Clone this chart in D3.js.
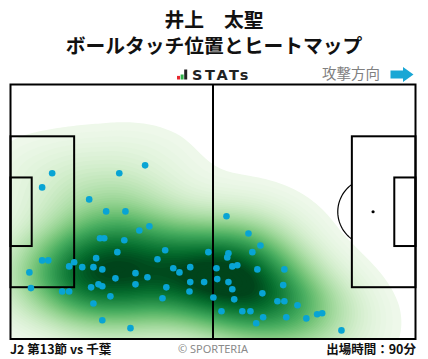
<!DOCTYPE html>
<html><head><meta charset="utf-8">
<script src="https://cdn.jsdelivr.net/npm/d3@7"></script>
<style>html,body{margin:0;padding:0;background:#fff;} svg{display:block}</style>
</head><body><svg id="c" width="428" height="359"></svg>
<script>
// ---- data ----
const titleLines = ["井上　太聖", "ボールタッチ位置とヒートマップ"];
const matchLabel = "J2 第13節 vs 千葉";
const creditLabel = "© SPORTERIA";
const minutesLabel = "出場時間：90分";
const directionLabel = "攻撃方向";
const brandLabel = "STATs";
// pitch in metres (105 x 68)
const pitchLength = 105, pitchWidth = 68;
// ball-touch positions, metres from own goal line (x) and top touchline (y)
const touchX = [10.8, 8.2, 28.2, 34.9, 20.4, 24.8, 29.8, 33.4, 36.0, 23.2, 24.3, 29.5, 27.7, 40.1, 38.1, 51.3,
  8.2, 9.8, 16.5, 22.2, 15.2, 18.6, 21.5, 23.8, 4.9, 32.4, 42.2, 43.8, 46.6, 27.2, 35.5, 46.6, 50.2,
  5.3, 20.9, 22.8, 23.8, 32.4, 40.4, 13.4, 15.2, 46.4, 25.9, 39.4, 52.6, 21.5, 23.8, 31.1,
  56.0, 61.7, 64.8, 62.7, 56.5, 56.2, 53.4, 57.5, 58.8, 64.0, 71.0, 53.6, 56.5, 57.5, 70.7, 65.3,
  58.0, 69.2, 71.0, 74.4, 54.7, 60.1, 62.2, 65.5, 71.5, 76.7, 79.5, 80.8, 63.7, 85.8];
const touchY = [23.7, 27.5, 23.7, 21.6, 30.7, 33.9, 33.9, 39.0, 37.9, 41.1, 41.1, 41.6, 44.8, 44.3, 46.7, 44.8,
  47.0, 47.0, 47.5, 46.4, 48.6, 48.8, 48.8, 49.4, 50.2, 50.4, 49.1, 50.2, 48.8, 51.8, 51.5, 52.8, 52.8,
  54.4, 54.2, 53.4, 53.9, 53.4, 54.2, 55.3, 55.3, 55.3, 56.6, 57.1, 56.9, 58.5, 63.0, 65.1,
  35.2, 39.8, 43.0, 44.8, 45.1, 46.2, 49.1, 48.6, 48.3, 49.4, 49.4, 52.0, 52.8, 54.7, 53.6, 55.8,
  57.4, 57.9, 57.9, 59.0, 60.6, 60.6, 60.6, 62.2, 62.2, 62.5, 61.4, 61.1, 63.8, 65.7];

// ---- layout ----
const W = 428, H = 359;
const field = {left: 10.5, right: 415.5, top: 84.5, bottom: 339};
const svg = d3.select("#c");
const x = d3.scaleLinear().domain([0, pitchLength]).range([field.left, field.right]);
const y = d3.scaleLinear().domain([0, pitchWidth]).range([field.top, field.bottom]);
const FONT = "'Noto Sans CJK JP', 'Noto Sans', sans-serif";

svg.append("rect").attr("width", W).attr("height", H).attr("fill", "#fff");

// titles
svg.append("text").attr("x", 214).attr("y", 27).attr("text-anchor", "middle")
  .attr("font-family", FONT).attr("font-weight", 700).attr("font-size", 19.8).attr("fill", "#111")
  .text(titleLines[0]);
svg.append("text").attr("x", 214).attr("y", 53).attr("text-anchor", "middle")
  .attr("font-family", FONT).attr("font-weight", 700).attr("font-size", 19.8).attr("fill", "#111")
  .text(titleLines[1]);

// brand logo
const logoBars = [{c: "#e8272f", h: 3.6}, {c: "#2fb24a", h: 5}, {c: "#222", h: 10}];
const lb = svg.append("g").attr("transform", "translate(177,79.5)");
lb.selectAll("rect").data(logoBars).join("rect")
  .attr("x", (d, i) => i * 3.6).attr("y", d => -d.h).attr("width", 3).attr("height", d => d.h).attr("fill", d => d.c);
svg.append("text").attr("x", 192).attr("y", 79.5).attr("font-family", "'DejaVu Sans', sans-serif")
  .attr("font-weight", 700).attr("font-size", 14.5).attr("letter-spacing", 2.6).attr("fill", "#222")
  .text(brandLabel);

// attack direction
svg.append("text").attr("x", 380).attr("y", 79).attr("text-anchor", "end")
  .attr("font-family", FONT).attr("font-size", 14.5).attr("fill", "#808080").text(directionLabel);
svg.append("path").attr("d", "M390.5,70.5 H403 V67 L413.5,74.5 L403,82 V78.5 H390.5 Z").attr("fill", "#1aa7d5");

// heatmap (anisotropic kernel: wider along the pitch length)
svg.append("clipPath").attr("id", "fclip").append("rect")
  .attr("x", field.left).attr("y", field.top).attr("width", field.right - field.left).attr("height", field.bottom - field.top);
const pts = touchX.map((v, i) => [x(v), y(touchY[i])]);
const sx = 1.35;
const density = d3.contourDensity().x(d => d[0] / sx).y(d => d[1]).size([Math.ceil(W / sx), H]).cellSize(2).bandwidth(28);
const contours = density.contours(pts);
const maxD = contours.max;
const N = 60;
const thresholds = d3.range(0, N).map(i => maxD * (0.03 + 0.97 * i / N));
const color = d3.scaleSequential(t => d3.interpolateGreens(t)).domain([-maxD * 0.03, maxD * 0.92]);
const stretch = d3.geoTransform({point(px, py) { this.stream.point(px * sx, py); }});
svg.append("g").attr("clip-path", "url(#fclip)").selectAll("path")
  .data(thresholds.map(t => contours(t))).join("path")
  .attr("d", d3.geoPath(stretch)).attr("fill", d => color(d.value)).attr("stroke", "none");

// pitch lines
const lines = svg.append("g").attr("fill", "none").attr("stroke", "#000").attr("stroke-width", 2);
lines.append("rect").attr("x", field.left).attr("y", field.top).attr("width", field.right - field.left).attr("height", field.bottom - field.top);
lines.append("line").attr("x1", x(pitchLength / 2)).attr("x2", x(pitchLength / 2)).attr("y1", y(0)).attr("y2", y(pitchWidth));
const boxes = [
  {x0: 0, x1: 16.5, h: 40.32}, {x0: 0, x1: 5.5, h: 18.32},
  {x0: pitchLength - 16.5, x1: pitchLength, h: 40.32}, {x0: pitchLength - 5.5, x1: pitchLength, h: 18.32}
];
lines.selectAll("rect.box").data(boxes).join("rect").attr("class", "box")
  .attr("x", d => x(d.x0)).attr("width", d => x(d.x1) - x(d.x0))
  .attr("y", d => y(pitchWidth / 2 - d.h / 2)).attr("height", d => y(pitchWidth / 2 + d.h / 2) - y(pitchWidth / 2 - d.h / 2));
// right penalty arc
const spotX = pitchLength - 11, r = 9.15;
const dx = 16.5 - 11; const ang = Math.acos(dx / r);
const arcPts = d3.range(-ang, ang + 0.001, (2 * ang) / 40).map(a => [spotX - r * Math.cos(a), pitchWidth / 2 + r * Math.sin(a)]);
svg.append("path").attr("d", d3.line().x(d => x(d[0])).y(d => y(d[1]))(arcPts))
  .attr("fill", "none").attr("stroke", "#000").attr("stroke-width", 1.2);
svg.append("circle").attr("cx", x(spotX)).attr("cy", y(pitchWidth / 2)).attr("r", 1.6).attr("fill", "#000");

// touch points
svg.append("g").selectAll("circle").data(pts).join("circle")
  .attr("cx", d => d[0]).attr("cy", d => d[1]).attr("r", 3.3).attr("fill", "#08a4d4");

// footer
svg.append("text").attr("x", 10).attr("y", 353.5).attr("font-family", FONT).attr("font-weight", 700)
  .attr("font-size", 12.5).attr("fill", "#111").text(matchLabel);
svg.append("text").attr("x", 213).attr("y", 353).attr("text-anchor", "middle").attr("font-family", "'Noto Sans', sans-serif")
  .attr("font-size", 11).attr("fill", "#8a8a8a").text(creditLabel);
svg.append("text").attr("x", 416).attr("y", 353.5).attr("text-anchor", "end").attr("font-family", FONT).attr("font-weight", 700)
  .attr("font-size", 12.5).attr("fill", "#111").text(minutesLabel);
</script></body></html>
